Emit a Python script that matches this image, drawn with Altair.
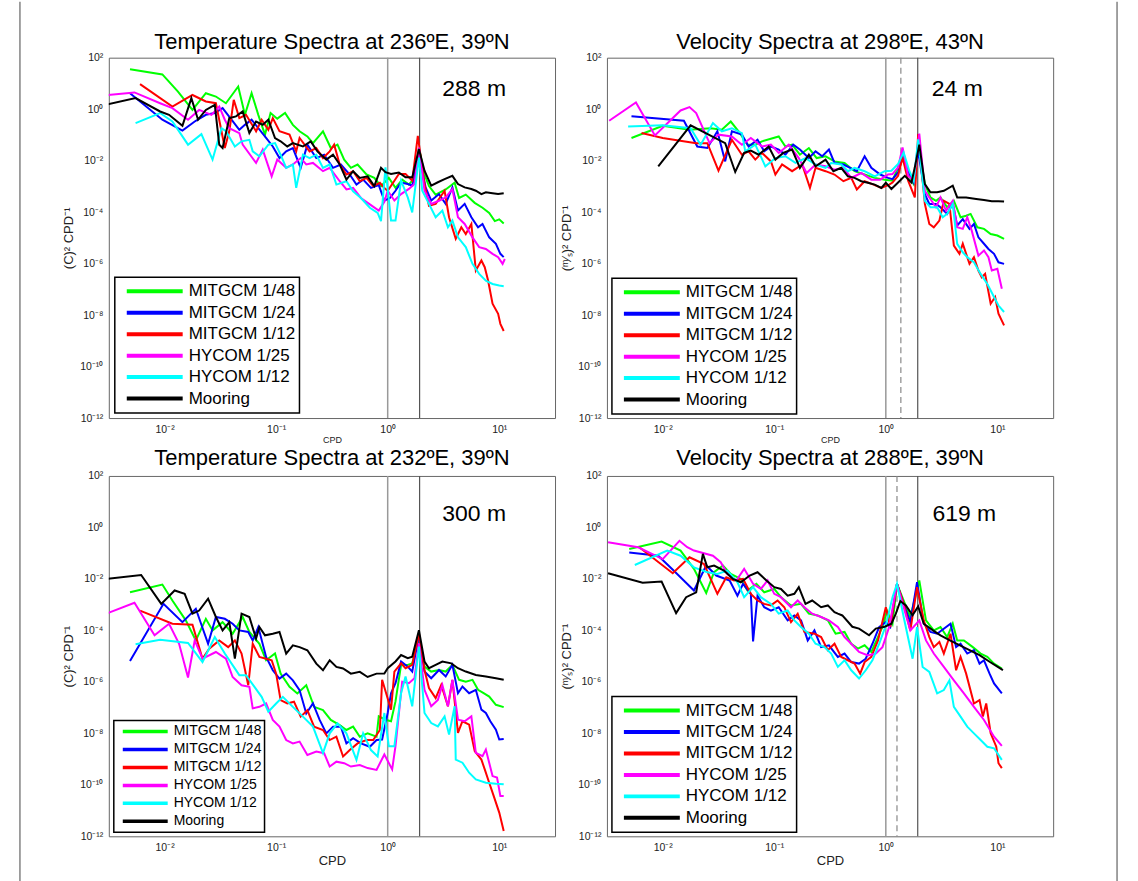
import altair as alt
import pandas as pd

SERIES = ["MITGCM 1/48", "MITGCM 1/24", "MITGCM 1/12", "HYCOM 1/25", "HYCOM 1/12", "Mooring"]
COLORS = ["#00ff00", "#0000ff", "#ff0000", "#ff00ff", "#00ffff", "#000000"]

# ---- data: (log10 CPD, log10 spectral density) ----
# Temperature spectra at 236E, 39N, 288 m
T236_MIT48 = [(-2.31,1.55),(-2.02,1.35),(-1.88,0.68),(-1.75,-0.03),(-1.63,0.62),(-1.54,0.49),(-1.45,0.23),(-1.34,0.88),(-1.28,-0.22),(-1.22,0.62),(-1.16,-0.22),(-1.10,-0.99),(-1.05,-0.15),(-0.99,-0.37),(-0.92,-0.15),(-0.85,-0.61),(-0.79,-0.86),(-0.72,-1.06),(-0.67,-1.32),(-0.58,-0.86),(-0.51,-1.51),(-0.45,-1.38),(-0.39,-1.96),(-0.33,-2.28),(-0.27,-2.15),(-0.19,-2.54),(-0.12,-2.67),(-0.06,-2.99),(0.01,-2.67),(0.07,-3.06),(0.13,-2.74),(0.19,-2.93),(0.24,-2.67),(0.28,-1.51),(0.33,-2.54),(0.37,-2.99),(0.43,-3.32),(0.52,-3.12),(0.60,-2.86),(0.64,-3.45),(0.70,-3.32),(0.78,-3.64),(0.85,-3.83),(0.91,-4.03),(0.96,-4.35),(1.00,-4.28),(1.04,-4.44)]
T236_MIT24 = [(-2.31,0.62),(-2.02,-0.41),(-1.84,-0.83),(-1.73,-0.48),(-1.63,-0.22),(-1.55,-0.15),(-1.48,0.04),(-1.40,-0.41),(-1.33,-0.80),(-1.28,-0.61),(-1.22,-0.41),(-1.09,-1.12),(-1.03,-1.45),(-0.97,-1.90),(-0.91,-1.64),(-0.85,-1.51),(-0.78,-2.28),(-0.72,-1.38),(-0.64,-1.90),(-0.57,-1.77),(-0.49,-2.28),(-0.42,-2.15),(-0.34,-2.54),(-0.28,-2.93),(-0.22,-2.74),(-0.15,-3.06),(-0.08,-2.95),(-0.03,-3.55),(0.02,-3.45),(0.07,-3.17),(0.12,-2.85),(0.18,-2.91),(0.22,-2.97),(0.28,-1.75),(0.34,-3.04),(0.39,-3.55),(0.46,-3.30),(0.52,-3.68),(0.58,-3.04),(0.63,-3.94),(0.69,-3.68),(0.75,-4.20),(0.81,-4.59),(0.85,-4.46),(0.91,-4.98),(0.97,-5.23),(1.01,-5.62),(1.04,-5.75)]
T236_MIT12 = [(-2.22,0.97),(-1.93,0.10),(-1.75,0.55),(-1.63,0.30),(-1.54,0.23),(-1.46,-1.51),(-1.42,-0.86),(-1.38,0.36),(-1.33,-0.35),(-1.27,-0.22),(-1.18,-0.86),(-1.13,-0.41),(-1.07,-0.80),(-1.03,-0.35),(-0.97,-0.86),(-0.88,-0.99),(-0.82,-1.64),(-0.79,-1.12),(-0.70,-1.64),(-0.64,-1.51),(-0.58,-1.90),(-0.52,-1.64),(-0.48,-1.38),(-0.43,-2.15),(-0.37,-2.54),(-0.31,-2.41),(-0.25,-2.80),(-0.19,-2.67),(-0.13,-2.99),(-0.07,-2.86),(-0.03,-3.06),(0.00,-3.17),(0.06,-2.78),(0.10,-2.52),(0.16,-2.52),(0.22,-2.78),(0.27,-1.04),(0.33,-2.91),(0.37,-3.75),(0.43,-3.68),(0.51,-3.17),(0.55,-4.20),(0.61,-5.04),(0.66,-4.59),(0.70,-4.85),(0.75,-4.46),(0.79,-6.27),(0.84,-5.88),(0.87,-6.14),(0.90,-6.66),(0.94,-7.56),(0.99,-7.95),(1.01,-8.34),(1.04,-8.62)]
T236_HY25 = [(-2.51,0.55),(-2.27,0.65),(-2.04,0.23),(-1.93,0.04),(-1.79,-0.41),(-1.69,-0.03),(-1.58,-0.22),(-1.51,0.10),(-1.46,-0.41),(-1.42,-0.74),(-1.33,-0.93),(-1.30,-1.38),(-1.18,-2.09),(-1.12,-1.57),(-1.04,-2.61),(-0.99,-1.96),(-0.91,-2.28),(-0.85,-2.15),(-0.78,-1.90),(-0.73,-2.15),(-0.67,-2.09),(-0.58,-2.41),(-0.52,-2.28),(-0.43,-2.80),(-0.37,-3.12),(-0.31,-3.06),(-0.24,-3.45),(-0.16,-3.70),(-0.08,-3.94),(-0.03,-3.60),(0.00,-3.17),(0.06,-3.55),(0.12,-3.30),(0.19,-3.10),(0.24,-2.91),(0.28,-1.49),(0.33,-3.17),(0.39,-3.68),(0.46,-3.56),(0.52,-3.43),(0.58,-3.10),(0.63,-4.20),(0.69,-4.46),(0.76,-4.98),(0.82,-5.36),(0.88,-5.43),(0.94,-5.62),(0.99,-5.75),(1.03,-6.01),(1.05,-5.82)]
T236_HY12 = [(-2.26,-0.54),(-2.04,-0.15),(-1.93,-0.48),(-1.79,-1.38),(-1.67,-0.97),(-1.57,-1.96),(-1.49,-0.74),(-1.45,-0.86),(-1.37,-1.45),(-1.31,-1.25),(-1.24,-1.19),(-1.21,-1.64),(-1.15,-1.83),(-1.07,-1.38),(-1.01,-1.32),(-0.96,-1.77),(-0.91,-2.28),(-0.85,-2.15),(-0.82,-3.06),(-0.76,-1.77),(-0.70,-1.90),(-0.64,-1.77),(-0.58,-2.28),(-0.52,-2.15),(-0.46,-2.93),(-0.37,-2.80),(-0.31,-3.19),(-0.24,-3.45),(-0.16,-3.83),(-0.09,-4.03),(-0.06,-4.35),(-0.02,-2.26),(0.03,-4.33),(0.07,-4.33),(0.12,-2.78),(0.18,-3.43),(0.22,-4.01),(0.28,-1.88),(0.31,-3.17),(0.37,-3.68),(0.43,-4.20),(0.49,-3.94),(0.54,-4.59),(0.58,-4.33),(0.63,-4.98),(0.70,-5.36),(0.76,-6.01),(0.82,-6.40),(0.88,-6.66),(0.94,-6.79),(1.00,-6.85),(1.04,-6.88)]
T236_MOOR = [(-2.51,0.19),(-2.26,0.43),(-2.04,-0.09),(-1.96,-0.22),(-1.84,-0.65),(-1.76,0.43),(-1.70,-0.41),(-1.63,-0.03),(-1.55,0.17),(-1.51,-1.38),(-1.48,-1.51),(-1.42,-0.35),(-1.36,-0.28),(-1.30,-0.09),(-1.24,-0.93),(-1.18,-0.48),(-1.12,-0.61),(-1.07,-0.41),(-1.01,-1.12),(-0.96,-1.25),(-0.90,-1.45),(-0.85,-1.32),(-0.76,-1.45),(-0.69,-1.25),(-0.63,-1.64),(-0.55,-1.96),(-0.49,-1.77),(-0.43,-2.15),(-0.37,-2.74),(-0.31,-2.41),(-0.25,-2.67),(-0.18,-2.61),(-0.12,-2.99),(-0.06,-2.28),(-0.02,-2.45),(0.03,-2.52),(0.10,-2.46),(0.16,-2.65),(0.22,-2.65),(0.28,-1.55),(0.33,-2.39),(0.39,-2.97),(0.45,-2.84),(0.51,-2.72),(0.58,-2.59),(0.63,-2.91),(0.69,-3.04),(0.75,-3.10),(0.79,-3.17),(0.84,-3.30),(0.88,-3.23),(0.94,-3.27),(0.99,-3.30),(1.04,-3.27)]

# Velocity spectra at 298E, 43N, 24 m
V298_MIT48 = [(-2.28,-1.12),(-2.00,-0.65),(-1.76,-0.80),(-1.57,-0.74),(-1.47,-0.80),(-1.39,-0.48),(-1.32,-0.86),(-1.24,-1.38),(-1.17,-1.38),(-1.11,-1.25),(-0.96,-1.06),(-0.90,-1.45),(-0.84,-1.38),(-0.77,-1.77),(-0.69,-1.51),(-0.62,-1.90),(-0.54,-1.83),(-0.46,-2.03),(-0.37,-2.09),(-0.28,-2.41),(-0.19,-2.54),(-0.10,-2.67),(-0.01,-2.74),(0.06,-2.78),(0.11,-2.26),(0.15,-1.75),(0.20,-2.52),(0.25,-2.91),(0.29,-1.36),(0.35,-2.91),(0.40,-3.43),(0.45,-3.56),(0.49,-3.43),(0.55,-3.81),(0.61,-3.56),(0.67,-4.20),(0.72,-4.14),(0.76,-4.07),(0.82,-4.59),(0.88,-4.65),(0.94,-4.85),(1.00,-4.91),(1.06,-5.04)]
V298_MIT24 = [(-2.28,-0.28),(-1.81,-0.45),(-1.69,-1.45),(-1.60,-1.51),(-1.51,-0.86),(-1.44,-2.03),(-1.38,-0.86),(-1.29,-0.99),(-1.23,-1.45),(-1.15,-1.19),(-1.09,-1.64),(-1.03,-1.45),(-0.96,-1.57),(-0.90,-1.77),(-0.83,-1.38),(-0.77,-1.57),(-0.69,-1.90),(-0.63,-1.64),(-0.57,-1.83),(-0.51,-1.57),(-0.46,-2.09),(-0.38,-2.15),(-0.32,-2.28),(-0.26,-2.41),(-0.19,-1.83),(-0.13,-2.28),(-0.05,-2.54),(0.02,-2.67),(0.06,-2.72),(0.11,-2.46),(0.15,-1.88),(0.20,-2.39),(0.25,-2.85),(0.29,-1.62),(0.35,-3.30),(0.39,-3.68),(0.45,-3.68),(0.49,-3.81),(0.55,-4.07),(0.60,-3.68),(0.64,-4.52),(0.69,-4.27),(0.75,-4.65),(0.79,-4.46),(0.83,-4.98),(0.88,-5.23),(0.92,-5.43),(0.97,-5.62),(1.01,-5.95),(1.06,-6.01)]
V298_MIT12 = [(-2.19,-0.93),(-2.00,-1.12),(-1.70,-1.32),(-1.60,-1.32),(-1.50,-2.39),(-1.38,-1.19),(-1.29,-1.77),(-1.23,-1.64),(-1.17,-1.96),(-1.11,-1.70),(-1.03,-2.03),(-0.99,-2.54),(-0.93,-2.15),(-0.84,-2.41),(-0.75,-2.15),(-0.68,-3.06),(-0.63,-2.28),(-0.54,-2.41),(-0.46,-2.54),(-0.38,-2.80),(-0.31,-2.67),(-0.26,-3.12),(-0.19,-2.80),(-0.11,-2.93),(-0.04,-3.06),(0.03,-2.93),(0.06,-2.85),(0.11,-2.59),(0.15,-1.88),(0.20,-2.78),(0.26,-3.43),(0.29,-0.97),(0.35,-3.68),(0.39,-4.46),(0.43,-4.59),(0.48,-4.33),(0.52,-3.56),(0.57,-3.68),(0.61,-5.30),(0.66,-5.62),(0.69,-5.23),(0.75,-6.01),(0.79,-5.75),(0.83,-6.27),(0.86,-6.53),(0.89,-6.40),(0.94,-7.56),(0.98,-7.30),(1.01,-7.95),(1.06,-8.40)]
V298_HY25 = [(-2.48,-0.45),(-2.24,0.26),(-2.07,-1.02),(-1.84,-0.05),(-1.76,0.08),(-1.70,-0.15),(-1.58,-1.32),(-1.50,-0.99),(-1.38,-1.06),(-1.29,-1.38),(-1.21,-1.12),(-1.11,-1.45),(-1.03,-1.38),(-0.96,-1.70),(-0.87,-1.38),(-0.78,-1.90),(-0.71,-2.48),(-0.63,-2.15),(-0.54,-2.22),(-0.46,-2.35),(-0.38,-2.28),(-0.31,-2.67),(-0.22,-2.48),(-0.13,-2.74),(-0.05,-2.74),(0.02,-2.54),(0.06,-2.52),(0.11,-2.26),(0.15,-1.49),(0.20,-2.59),(0.25,-2.78),(0.30,-0.95),(0.35,-3.17),(0.39,-3.43),(0.45,-3.81),(0.49,-3.43),(0.54,-3.94),(0.60,-3.56),(0.64,-4.59),(0.69,-4.65),(0.73,-4.20),(0.77,-4.72),(0.83,-5.69),(0.88,-5.49),(0.92,-5.75),(0.95,-6.27),(1.00,-6.20),(1.04,-6.98)]
V298_HY12 = [(-2.31,-0.67),(-2.00,-0.63),(-1.75,-0.74),(-1.66,-1.38),(-1.55,-0.54),(-1.47,-0.86),(-1.38,-0.74),(-1.29,-0.93),(-1.26,-1.64),(-1.17,-1.38),(-1.08,-2.22),(-0.99,-1.90),(-0.90,-1.83),(-0.81,-2.09),(-0.72,-1.90),(-0.63,-2.15),(-0.54,-2.28),(-0.49,-2.09),(-0.40,-2.15),(-0.34,-2.41),(-0.28,-2.28),(-0.19,-2.41),(-0.10,-2.61),(-0.01,-2.41),(0.05,-2.39),(0.11,-2.13),(0.16,-1.68),(0.21,-2.39),(0.25,-2.78),(0.29,-1.17),(0.35,-3.56),(0.40,-3.81),(0.46,-3.81),(0.51,-4.20),(0.55,-4.07),(0.60,-3.68),(0.64,-5.23),(0.69,-5.56),(0.73,-5.75),(0.79,-5.95),(0.85,-6.40),(0.91,-6.79),(0.97,-7.30),(1.01,-7.63),(1.06,-7.88)]
V298_MOOR = [(-2.04,-2.22),(-1.75,-0.63),(-1.44,-1.32),(-1.35,-2.44),(-1.27,-1.70),(-1.21,-1.61),(-1.14,-1.77),(-1.05,-1.45),(-0.99,-1.96),(-0.92,-1.70),(-0.84,-1.57),(-0.77,-2.28),(-0.69,-1.77),(-0.63,-2.22),(-0.54,-1.96),(-0.47,-2.41),(-0.40,-2.28),(-0.34,-2.61),(-0.28,-2.67),(-0.22,-2.80),(-0.16,-2.86),(-0.10,-2.93),(-0.04,-3.06),(0.00,-2.86),(0.05,-3.10),(0.11,-2.85),(0.17,-2.59),(0.23,-2.85),(0.26,-2.26),(0.30,-1.38),(0.35,-2.91),(0.40,-3.23),(0.46,-3.23),(0.52,-3.17),(0.60,-2.97),(0.64,-3.43),(0.72,-3.43),(0.81,-3.49),(0.88,-3.53),(0.95,-3.58),(1.01,-3.58),(1.06,-3.59)]

# Temperature spectra at 232E, 39N, 300 m
T232_MIT48 = [(-2.31,-2.52),(-2.02,-2.22),(-1.93,-2.84),(-1.81,-3.61),(-1.72,-4.39),(-1.63,-3.55),(-1.57,-4.00),(-1.48,-3.68),(-1.39,-4.13),(-1.30,-3.48),(-1.24,-4.06),(-1.15,-4.52),(-1.09,-5.16),(-1.01,-4.90),(-0.96,-5.68),(-0.88,-6.19),(-0.81,-6.45),(-0.73,-6.13),(-0.66,-6.97),(-0.58,-7.10),(-0.51,-7.48),(-0.43,-7.68),(-0.37,-7.87),(-0.31,-7.74),(-0.25,-8.13),(-0.18,-8.00),(-0.10,-8.13),(-0.08,-7.34),(-0.02,-7.47),(0.03,-7.53),(0.07,-6.76),(0.12,-5.34),(0.18,-5.34),(0.22,-5.28),(0.28,-4.31),(0.33,-5.41),(0.39,-5.60),(0.46,-5.54),(0.52,-5.60),(0.58,-5.34),(0.64,-5.92),(0.70,-5.99),(0.76,-5.92),(0.81,-6.31),(0.86,-6.44),(0.91,-6.57),(0.97,-6.89),(1.04,-6.98)]
T232_MIT24 = [(-2.31,-5.19),(-2.01,-2.97),(-1.84,-3.68),(-1.72,-3.16),(-1.61,-4.52),(-1.54,-3.48),(-1.46,-3.55),(-1.39,-3.74),(-1.33,-4.00),(-1.25,-4.06),(-1.21,-4.39),(-1.16,-3.87),(-1.09,-5.03),(-1.03,-5.55),(-0.97,-5.87),(-0.91,-5.68),(-0.85,-5.94),(-0.79,-6.32),(-0.73,-7.23),(-0.67,-6.84),(-0.61,-7.48),(-0.55,-8.00),(-0.49,-7.74),(-0.42,-7.74),(-0.37,-8.39),(-0.31,-8.19),(-0.24,-8.39),(-0.16,-8.52),(-0.10,-8.26),(-0.05,-8.24),(0.00,-7.21),(0.03,-6.44),(0.07,-6.05),(0.12,-5.21),(0.18,-5.41),(0.22,-5.60),(0.28,-4.18),(0.33,-5.60),(0.39,-5.86),(0.46,-5.54),(0.52,-5.79),(0.58,-5.34),(0.63,-6.44),(0.67,-6.18),(0.73,-6.44),(0.79,-6.31),(0.84,-7.08),(0.88,-7.21),(0.92,-7.53),(0.97,-7.86),(1.00,-8.24),(1.04,-8.22)]
T232_MIT12 = [(-2.22,-3.23),(-1.93,-3.74),(-1.75,-3.78),(-1.66,-5.10),(-1.60,-4.71),(-1.51,-4.39),(-1.43,-4.65),(-1.37,-4.39),(-1.31,-4.90),(-1.25,-6.13),(-1.21,-4.52),(-1.15,-5.03),(-1.04,-5.16),(-1.00,-5.68),(-0.96,-6.71),(-0.90,-6.84),(-0.84,-6.77),(-0.78,-7.35),(-0.72,-7.10),(-0.66,-7.74),(-0.58,-7.87),(-0.52,-8.26),(-0.46,-8.13),(-0.40,-8.90),(-0.34,-8.65),(-0.27,-8.39),(-0.19,-8.26),(-0.13,-8.26),(-0.07,-7.87),(-0.05,-5.92),(0.03,-7.08),(0.06,-5.60),(0.12,-5.28),(0.16,-5.47),(0.22,-5.34),(0.28,-4.12),(0.33,-5.54),(0.37,-6.24),(0.43,-6.63),(0.48,-6.12),(0.54,-6.95),(0.58,-5.92),(0.63,-7.98),(0.67,-7.53),(0.73,-7.66),(0.78,-8.69),(0.84,-9.02),(0.87,-9.40),(0.91,-9.92),(0.95,-10.43),(1.00,-11.08),(1.04,-11.79)]
T232_HY25 = [(-2.51,-3.33),(-2.27,-2.93),(-2.09,-4.19),(-1.96,-3.74),(-1.87,-4.52),(-1.79,-5.83),(-1.73,-4.39),(-1.66,-5.10),(-1.54,-4.84),(-1.45,-5.10),(-1.39,-5.81),(-1.31,-6.13),(-1.24,-6.19),(-1.21,-7.03),(-1.15,-6.97),(-1.09,-6.84),(-1.03,-7.48),(-0.97,-7.74),(-0.91,-8.26),(-0.85,-8.39),(-0.79,-8.32),(-0.72,-8.84),(-0.64,-8.71),(-0.57,-8.77),(-0.52,-9.29),(-0.46,-9.10),(-0.39,-9.16),(-0.33,-9.29),(-0.25,-9.23),(-0.18,-9.35),(-0.10,-9.42),(-0.03,-8.82),(0.04,-9.40),(0.07,-8.50),(0.13,-5.99),(0.19,-6.05),(0.24,-5.86),(0.28,-4.50),(0.33,-6.31),(0.39,-6.95),(0.45,-6.70),(0.49,-6.12),(0.54,-6.95),(0.58,-5.92),(0.63,-7.47),(0.69,-7.53),(0.75,-7.34),(0.79,-8.76),(0.85,-8.89),(0.88,-8.63),(0.94,-9.66),(0.98,-9.72),(1.01,-10.43),(1.04,-10.43)]
T232_HY12 = [(-2.26,-4.54),(-2.04,-4.36),(-1.79,-4.49),(-1.66,-5.23),(-1.55,-4.26),(-1.46,-4.90),(-1.33,-5.74),(-1.27,-5.74),(-1.13,-6.58),(-1.07,-7.16),(-1.00,-6.84),(-0.94,-6.58),(-0.85,-6.97),(-0.76,-7.35),(-0.67,-7.74),(-0.58,-8.77),(-0.52,-8.00),(-0.45,-7.61),(-0.37,-8.00),(-0.28,-9.03),(-0.22,-8.00),(-0.15,-8.65),(-0.09,-8.90),(-0.03,-7.21),(0.01,-8.50),(0.06,-8.50),(0.12,-6.44),(0.16,-5.79),(0.22,-6.95),(0.28,-4.63),(0.33,-7.21),(0.39,-7.60),(0.45,-7.73),(0.51,-7.34),(0.55,-8.05),(0.60,-6.95),(0.61,-9.02),(0.67,-9.14),(0.73,-9.53),(0.79,-9.79),(0.88,-9.92),(0.97,-9.96),(1.04,-9.98)]
T232_MOOR = [(-2.51,-2.00),(-2.21,-1.85),(-2.03,-2.97),(-1.91,-2.45),(-1.82,-2.58),(-1.75,-3.35),(-1.69,-3.23),(-1.61,-2.77),(-1.54,-3.48),(-1.48,-4.00),(-1.42,-3.68),(-1.37,-5.10),(-1.31,-3.35),(-1.24,-3.48),(-1.18,-4.32),(-1.15,-3.87),(-1.10,-4.19),(-1.03,-4.13),(-0.97,-4.06),(-0.91,-4.90),(-0.85,-4.58),(-0.79,-4.65),(-0.72,-4.77),(-0.64,-5.29),(-0.58,-5.55),(-0.52,-5.16),(-0.46,-5.42),(-0.40,-5.48),(-0.33,-5.68),(-0.25,-5.61),(-0.18,-5.81),(-0.10,-5.68),(-0.03,-5.68),(0.00,-5.47),(0.07,-5.21),(0.12,-4.96),(0.18,-5.08),(0.22,-5.02),(0.28,-3.99),(0.33,-5.21),(0.37,-5.47),(0.43,-5.34),(0.49,-5.21),(0.57,-5.28),(0.63,-5.47),(0.70,-5.60),(0.79,-5.73),(0.88,-5.79),(0.97,-5.86),(1.04,-5.92)]

# Velocity spectra at 288E, 39N, 619 m
V288_MIT48 = [(-2.30,-0.84),(-2.01,-0.55),(-1.84,-0.90),(-1.72,-1.61),(-1.61,-2.55),(-1.54,-1.74),(-1.46,-1.48),(-1.39,-1.81),(-1.30,-2.00),(-1.24,-2.45),(-1.16,-2.19),(-1.09,-2.52),(-1.00,-2.39),(-0.94,-2.71),(-0.85,-3.03),(-0.76,-2.97),(-0.69,-3.35),(-0.61,-3.42),(-0.52,-3.61),(-0.45,-4.13),(-0.37,-4.06),(-0.31,-4.52),(-0.25,-4.71),(-0.19,-4.58),(-0.13,-4.84),(-0.09,-4.45),(-0.03,-3.87),(0.01,-3.23),(0.06,-3.74),(0.10,-2.19),(0.16,-2.84),(0.22,-3.48),(0.30,-2.06),(0.36,-3.61),(0.43,-4.00),(0.49,-3.87),(0.55,-4.26),(0.60,-3.74),(0.64,-4.39),(0.70,-4.39),(0.78,-4.65),(0.85,-4.90),(0.91,-5.03),(0.97,-5.29),(1.04,-5.48)]
V288_MIT24 = [(-2.30,-0.97),(-2.04,-1.10),(-1.90,-1.68),(-1.72,-2.45),(-1.61,-1.48),(-1.52,-1.87),(-1.40,-2.06),(-1.33,-2.65),(-1.28,-2.19),(-1.21,-2.58),(-1.19,-4.43),(-1.15,-2.65),(-1.09,-3.10),(-1.03,-3.23),(-0.96,-3.10),(-0.88,-3.61),(-0.82,-3.42),(-0.76,-3.61),(-0.70,-4.39),(-0.64,-4.00),(-0.58,-4.65),(-0.51,-4.58),(-0.43,-5.03),(-0.37,-4.90),(-0.31,-5.23),(-0.24,-5.29),(-0.18,-5.10),(-0.12,-4.52),(-0.06,-3.87),(0.00,-3.68),(0.04,-3.87),(0.10,-2.19),(0.16,-2.97),(0.22,-3.68),(0.28,-2.13),(0.34,-3.74),(0.40,-4.06),(0.46,-4.13),(0.58,-3.74),(0.63,-4.65),(0.67,-4.52),(0.73,-4.90),(0.79,-4.77),(0.84,-5.29),(0.88,-5.16),(0.93,-5.68),(0.97,-6.06),(1.04,-6.45)]
V288_MIT12 = [(-2.21,-0.77),(-1.91,-1.78),(-1.76,-1.16),(-1.63,-1.42),(-1.51,-2.58),(-1.43,-1.94),(-1.36,-2.06),(-1.28,-2.00),(-1.21,-2.58),(-1.15,-2.84),(-1.09,-2.97),(-1.03,-3.03),(-0.97,-2.84),(-0.91,-3.10),(-0.85,-3.68),(-0.79,-3.35),(-0.73,-4.06),(-0.64,-4.13),(-0.58,-4.26),(-0.52,-4.77),(-0.46,-4.52),(-0.40,-5.03),(-0.34,-5.16),(-0.28,-5.29),(-0.23,-5.68),(-0.19,-5.23),(-0.13,-5.03),(-0.07,-4.39),(0.00,-3.10),(0.04,-3.87),(0.10,-2.19),(0.16,-2.97),(0.22,-4.00),(0.28,-2.32),(0.34,-3.61),(0.39,-4.26),(0.43,-4.65),(0.48,-4.45),(0.52,-4.90),(0.58,-4.13),(0.63,-5.55),(0.67,-5.03),(0.72,-5.68),(0.79,-6.84),(0.84,-6.71),(0.87,-7.35),(0.90,-6.84),(0.94,-8.00),(0.99,-8.52),(1.01,-9.16),(1.04,-9.35)]
V288_HY25 = [(-2.49,-0.58),(-2.22,-0.77),(-2.00,-1.23),(-1.85,-0.52),(-1.78,-0.77),(-1.72,-0.90),(-1.55,-1.10),(-1.48,-1.35),(-1.42,-1.81),(-1.34,-2.06),(-1.27,-1.61),(-1.19,-2.19),(-1.12,-2.39),(-1.06,-2.06),(-1.00,-2.58),(-0.94,-2.71),(-0.85,-3.10),(-0.79,-2.84),(-0.73,-3.10),(-0.66,-3.35),(-0.58,-3.48),(-0.51,-3.61),(-0.43,-3.87),(-0.37,-4.26),(-0.31,-4.52),(-0.24,-4.84),(-0.16,-4.97),(-0.09,-4.90),(-0.03,-4.65),(0.03,-3.87),(0.10,-2.19),(0.16,-3.10),(0.22,-4.00),(0.30,-3.61),(0.36,-4.39),(0.43,-4.90),(0.52,-5.42),(0.61,-5.94),(0.70,-6.45),(0.79,-6.97),(0.88,-7.48),(0.97,-8.13),(1.04,-8.49)]
V288_HY12 = [(-2.25,-1.46),(-1.96,-0.90),(-1.84,-1.10),(-1.72,-1.55),(-1.60,-1.74),(-1.51,-1.81),(-1.42,-1.68),(-1.33,-2.13),(-1.27,-2.71),(-1.19,-2.32),(-1.12,-2.71),(-1.03,-2.97),(-0.96,-3.35),(-0.88,-3.23),(-0.82,-3.61),(-0.76,-3.87),(-0.69,-4.13),(-0.63,-4.52),(-0.55,-4.65),(-0.49,-4.90),(-0.43,-5.42),(-0.37,-5.16),(-0.31,-5.55),(-0.24,-5.87),(-0.18,-5.55),(-0.12,-5.16),(-0.06,-4.52),(0.00,-3.81),(0.06,-2.71),(0.10,-2.19),(0.16,-3.48),(0.24,-5.10),(0.28,-3.87),(0.33,-5.42),(0.39,-5.61),(0.46,-6.45),(0.52,-6.32),(0.57,-5.94),(0.61,-6.97),(0.67,-7.35),(0.73,-7.74),(0.79,-8.00),(0.85,-8.26),(0.91,-8.52),(0.97,-8.58),(1.04,-9.03)]
V288_MOOR = [(-2.49,-1.78),(-2.18,-2.15),(-2.01,-2.10),(-1.88,-3.33),(-1.79,-2.71),(-1.70,-2.52),(-1.64,-1.03),(-1.60,-1.55),(-1.54,-1.48),(-1.45,-1.68),(-1.37,-2.00),(-1.30,-2.13),(-1.22,-1.87),(-1.15,-1.74),(-1.07,-2.06),(-1.00,-2.32),(-0.94,-2.39),(-0.88,-2.65),(-0.82,-2.58),(-0.78,-2.32),(-0.72,-2.97),(-0.66,-2.84),(-0.58,-3.10),(-0.52,-3.03),(-0.46,-3.29),(-0.43,-3.35),(-0.39,-3.42),(-0.30,-3.86),(-0.24,-3.93),(-0.15,-4.19),(-0.09,-3.93),(-0.01,-3.86),(0.05,-3.74),(0.09,-3.35),(0.13,-2.86),(0.18,-3.03),(0.24,-3.41),(0.29,-3.07),(0.34,-3.74),(0.42,-3.99),(0.49,-4.19),(0.57,-4.38),(0.66,-4.57),(0.75,-4.77),(0.84,-4.96),(0.93,-5.22),(1.00,-5.41),(1.05,-5.54)]

# reference frequencies (CPD): diurnal, semidiurnal M2, local inertial
DIURNAL = 1.0
M2 = 1.932
INERTIAL_43N = 1.364
INERTIAL_39N = 1.259

TITLES = ["Temperature Spectra at 236ºE, 39ºN", "Velocity Spectra at 298ºE, 43ºN",
          "Temperature Spectra at 232ºE, 39ºN", "Velocity Spectra at 288ºE, 39ºN"]
DEPTHS = ["288 m", "24 m", "300 m", "619 m"]
YLAB_T = "(C)² CPD⁻¹"
YLAB_V = "(ᵐ⁄ₛ)² CPD⁻¹"

FONT = "Liberation Sans"
SUP = {2: "²", 1: "¹", 0: "⁰", -1: "⁻¹", -2: "⁻²", -4: "⁻⁴", -6: "⁻⁶", -8: "⁻⁸", -10: "⁻¹⁰", -12: "⁻¹²"}


def pow_label():
    e = "round(log(datum.value)/LN10)"
    expr = "''"
    for k, v in SUP.items():
        expr = f"{e} == {k} ? '{v}' : ({expr})"
    return "'10' + (" + expr + ")"


W, H = 447, 361


def panel(title, depth, ylab, lists, dashed, depth_xy, leg, xt_size, xt_pad, t_off, border_x=None):
    rows = []
    for name, pts in zip(SERIES, lists):
        for lf, ls in pts:
            rows.append({"series": name, "cpd": 10 ** lf, "psd": 10 ** ls})
    df = pd.DataFrame(rows)

    xenc = alt.X("cpd:Q",
                 scale=alt.Scale(type="log", domain=[10 ** -2.5, 10 ** 1.5], nice=False),
                 axis=alt.Axis(values=[0.01, 0.1, 1, 10], labelExpr=pow_label(), title="CPD",
                               ticks=False, domain=False, grid=False, labelFontSize=10.5,
                               labelFont=FONT, labelColor="#222", labelPadding=6,
                               titleFont=FONT, titleFontSize=xt_size, titleFontWeight="normal",
                               titleColor="#222", titlePadding=xt_pad))
    yenc = alt.Y("psd:Q",
                 scale=alt.Scale(type="log", domain=[1e-12, 1e2], nice=False),
                 axis=alt.Axis(values=[1e2, 1, 1e-2, 1e-4, 1e-6, 1e-8, 1e-10, 1e-12],
                               labelExpr=pow_label(), title=ylab, ticks=False, domain=False,
                               grid=False, labelFontSize=10.5, labelFont=FONT, labelColor="#222",
                               labelPadding=6, titleFont=FONT, titleFontSize=13,
                               titleFontWeight="normal", titleColor="#222", titlePadding=4))

    lines = alt.Chart(df).mark_line(strokeWidth=2, clip=True).encode(
        x=xenc, y=yenc,
        color=alt.Color("series:N", scale=alt.Scale(domain=SERIES, range=COLORS),
                        legend=alt.Legend(title=None, orient="none", legendX=leg["x"], legendY=leg["y"],
                                          symbolType="stroke", symbolSize=leg["sym"] ** 2,
                                          symbolStrokeWidth=leg["sw"], clipHeight=leg["h"],
                                          rowPadding=leg["rp"], labelFontSize=leg["fs"],
                                          labelFont=FONT, labelColor="black", strokeColor="black",
                                          padding=leg["pad"], labelOffset=leg["lo"],
                                          symbolOffset=leg["so"], labelLimit=300)),
    )

    v1 = alt.Chart(pd.DataFrame({"cpd": [DIURNAL]})).mark_rule(color="#999", strokeWidth=1.5).encode(x=xenc)
    v2 = alt.Chart(pd.DataFrame({"cpd": [M2]})).mark_rule(color="#555", strokeWidth=1.2).encode(x=xenc)
    layers = [v1, v2]
    if dashed is not None:
        v3 = alt.Chart(pd.DataFrame({"cpd": [dashed]})).mark_rule(
            color="#888", strokeWidth=1.2, strokeDash=[6, 4]).encode(x=xenc)
        layers.append(v3)
    layers.append(lines)

    txt = alt.Chart(pd.DataFrame({"label": [depth]})).mark_text(
        font=FONT, fontSize=23, align="center", baseline="middle", color="black"
    ).encode(text="label:N", x=alt.value(depth_xy[0]), y=alt.value(depth_xy[1]))
    layers.append(txt)

    dy = 0
    if border_x is not None:
        b = alt.Chart(pd.DataFrame({"k": [0]})).mark_rule(color="#444", strokeWidth=1).encode(
            x=alt.value(border_x), y=alt.value(-56), y2=alt.value(825))
        layers.append(b)
        dy = 56

    return alt.layer(*layers).properties(
        width=W, height=H,
        title=alt.TitleParams(title, fontSize=22, font=FONT, fontWeight="normal",
                              color="black", offset=t_off, anchor="middle", dy=dy))


LEG_BIG = dict(sym=56, sw=4, h=20, rp=1.5, fs=17, pad=4, lo=4, so=6)
LEG_SMALL = dict(sym=45, sw=3.5, h=16, rp=2, fs=14, pad=3, lo=4, so=4)

tl = panel(TITLES[0], DEPTHS[0], YLAB_T,
           [T236_MIT48, T236_MIT24, T236_MIT12, T236_HY25, T236_HY12, T236_MOOR],
           None, (366, 31), dict(LEG_BIG, x=6, y=220), 9, 1, 3, border_x=-89)
tr = panel(TITLES[1], DEPTHS[1], YLAB_V,
           [V298_MIT48, V298_MIT24, V298_MIT12, V298_HY25, V298_HY12, V298_MOOR],
           INERTIAL_43N, (351, 31), dict(LEG_BIG, x=5, y=221), 9, 1, 3, border_x=511)
bl = panel(TITLES[2], DEPTHS[2], YLAB_T,
           [T232_MIT48, T232_MIT24, T232_MIT12, T232_HY25, T232_HY12, T232_MOOR],
           None, (366, 38), dict(LEG_SMALL, x=5, y=245), 13, 2, 1)
br = panel(TITLES[3], DEPTHS[3], YLAB_V,
           [V288_MIT48, V288_MIT24, V288_MIT12, V288_HY25, V288_HY12, V288_MOOR],
           INERTIAL_39N, (358, 38), dict(LEG_BIG, x=5, y=221), 13, 2, 1)

chart = alt.concat(tl, tr, bl, br, columns=2, spacing={"row": 58, "column": 52},
                   bounds="flush").resolve_scale(color="independent").resolve_legend(
    color="independent").properties(
    padding={"left": 19, "top": 0, "right": 20, "bottom": 0},
    background="white",
).configure_view(stroke="#666", strokeWidth=1).configure_legend(strokeWidth=1.5)

chart.save("out.html", embed_options={"renderer": "svg", "actions": False})
